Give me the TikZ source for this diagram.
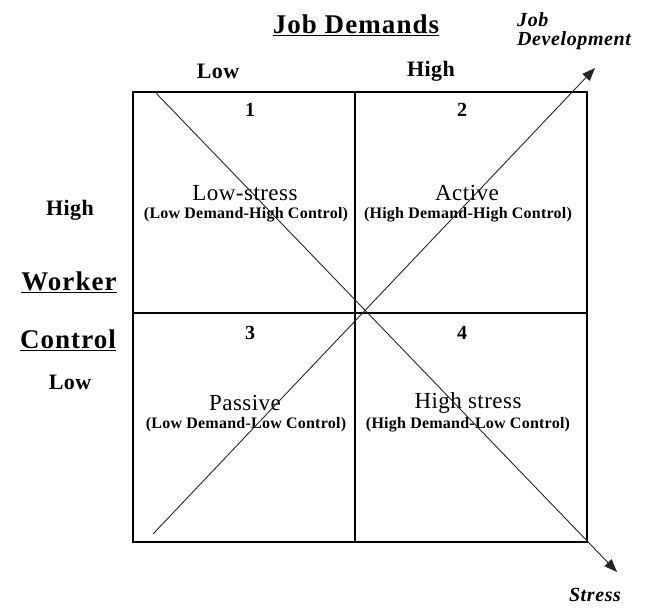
\documentclass[tikz,border=0pt]{standalone}
\usepackage{fontspec}
\setmainfont{Liberation Serif}
\usepackage[]{tikz}
\usetikzlibrary{arrows.meta}

\newcommand{\spaced}[1]{\addfontfeatures{LetterSpace=#1}}

\tikzset{
  axis/.style={font=\fontsize{27}{29}\selectfont\bfseries\spaced{4}},
  level/.style={font=\fontsize{22}{24}\selectfont\bfseries\spaced{2}},
  quad/.style={font=\fontsize{23}{25}\selectfont\spaced{2}},
  sub/.style={font=\fontsize{16}{18}\selectfont\bfseries\spaced{1.5}},
  num/.style={font=\fontsize{20}{22}\selectfont\bfseries},
  tag/.style={font=\fontsize{20}{19}\selectfont\bfseries\itshape\spaced{3}, align=left, inner sep=0pt},
  diag/.style={line width=0.9pt, draw=black!85, -{Triangle[length=13pt,width=10pt]}},
}

\begin{document}
\begin{tikzpicture}[x=1pt,y=-1pt]
  \useasboundingbox (0,0) rectangle (649,608);
  % the four cells
  \coordinate (nw) at (133,92);
  \coordinate (se) at (587,542);
  \draw[line width=1.3pt] (nw) rectangle (se);
  \draw[line width=1.3pt] (355,92) -- (355,542);
  \draw[line width=1.3pt] (133,313) -- (587,313);

  % demands axis
  \node[axis] (demands) at (356,25) {\underline{Job Demands}};
  \node[level] (dlow) at (218,71) {Low};
  \node[level] (dhigh) at (431,71) {High};

  % control axis
  \node[level] (chigh) at (70,210) {High};
  \node[axis] (worker) at (69,282) {\underline{Worker}};
  \node[axis] (control) at (68,340) {\underline{Control}};
  \node[level] (clow) at (70,382) {Low};

  % cells
  \node[num] (n1) at (250,110) {1};
  \node[num] (n2) at (462,110) {2};
  \node[num] (n3) at (250,333) {3};
  \node[num] (n4) at (462,333) {4};
  \node[quad] (lowstress) at (245,193) {Low-stress};
  \node[sub] at (246,215) {(Low Demand-High Control)};
  \node[quad] (active) at (467,193) {Active};
  \node[sub] at (468,215) {(High Demand-High Control)};
  \node[quad] (passive) at (245,403) {Passive};
  \node[sub] at (246,425) {(Low Demand-Low Control)};
  \node[quad] (highstress) at (468,403) {High stress};
  \node[sub] at (468,425) {(High Demand-Low Control)};

  % diagonals
  \coordinate (s0) at (155,92);
  \coordinate (s1) at (617,572);
  \coordinate (j0) at (153,534);
  \coordinate (j1) at (595,68);
  \draw[diag] (s0) -- (s1);
  \draw[diag] (j0) -- (j1);
  \node[tag, anchor=north west] (jobdev) at (517,12) {Job\\Development};
  \node[tag, anchor=south] (stress) at (595,602) {Stress};
\end{tikzpicture}
\end{document}
